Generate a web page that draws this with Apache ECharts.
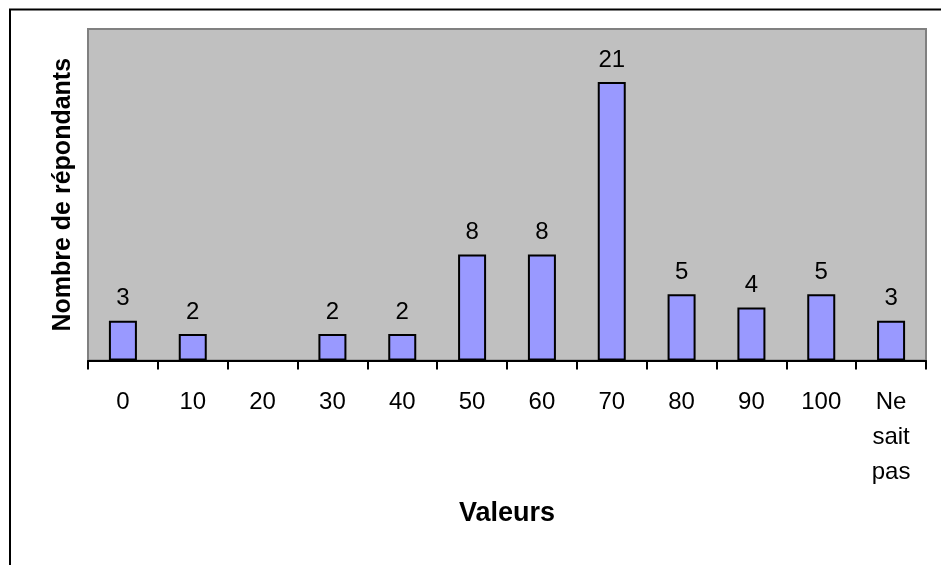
<!DOCTYPE html>
<html>
<head>
<meta charset="utf-8">
<script src="https://cdn.jsdelivr.net/npm/echarts@6/dist/echarts.min.js"></script>
<style>
  html, body { margin: 0; padding: 0; background: #ffffff; }
  #chart { width: 941px; height: 565px; }
</style>
</head>
<body>
<div id="chart"></div>
<script>
// Response categories (x axis) and number of respondents per category
const categories = ['0', '10', '20', '30', '40', '50', '60', '70', '80', '90', '100', 'Ne\nsait\npas'];
const respondents = [3, 2, 0, 2, 2, 8, 8, 21, 5, 4, 5, 3];

const xTitle = 'Valeurs';
const yTitle = 'Nombre de répondants';

const FONT = '"Liberation Sans", Arial, sans-serif';

const chart = echarts.init(document.getElementById('chart'), null, { renderer: 'canvas' });

chart.setOption({
  backgroundColor: '#ffffff',
  animation: false,
  graphic: [{
    type: 'rect',
    shape: { x: 10, y: 9.5, width: 960, height: 600 },
    style: { fill: 'none', stroke: '#000000', lineWidth: 2 },
    silent: true
  }],
  grid: {
    left: 88,
    right: 15,
    top: 29,
    bottom: 204.5,
    show: true,
    backgroundColor: '#c0c0c0',
    borderColor: '#808080',
    borderWidth: 2
  },
  xAxis: {
    type: 'category',
    data: categories,
    boundaryGap: true,
    name: xTitle,
    nameLocation: 'middle',
    nameGap: 140,
    nameTextStyle: { fontFamily: FONT, fontSize: 27, fontWeight: 'bold', color: '#000000' },
    axisLine: { show: true, lineStyle: { color: '#000000', width: 2 } },
    axisTick: { show: true, alignWithLabel: false, length: 9, lineStyle: { color: '#000000', width: 2 } },
    axisLabel: {
      interval: 0,
      margin: 24,
      fontFamily: FONT,
      fontSize: 24,
      lineHeight: 35,
      color: '#000000',
      verticalAlign: 'top'
    },
    splitLine: { show: false }
  },
  yAxis: {
    type: 'value',
    min: 0,
    max: 25,
    name: yTitle,
    nameLocation: 'middle',
    nameGap: 12,
    nameTextStyle: { fontFamily: FONT, fontSize: 25, fontWeight: 'bold', color: '#000000' },
    axisLine: { show: false },
    axisTick: { show: false },
    axisLabel: { show: false },
    splitLine: { show: false }
  },
  series: [{
    type: 'bar',
    // an empty category gets no bar outline at all
    data: respondents.map(v => (v === 0 ? '-' : v)),
    barWidth: 28,
    itemStyle: { color: '#9999ff', borderColor: '#000000', borderWidth: 2 },
    label: {
      show: true,
      position: 'top',
      distance: 10,
      fontFamily: FONT,
      fontSize: 24,
      color: '#000000'
    }
  }]
});
</script>
</body>
</html>
